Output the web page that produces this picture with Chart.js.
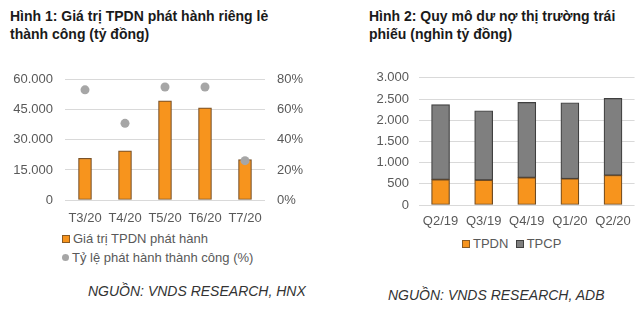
<!DOCTYPE html>
<html>
<head>
<meta charset="utf-8">
<script src="https://cdn.jsdelivr.net/npm/chart.js@4/dist/chart.umd.min.js"></script>
<style>
  html, body { margin:0; padding:0; background:#fff; }
  body { width:640px; height:310px; position:relative; overflow:hidden; font-family:"Liberation Sans", Arial, sans-serif; }
  .title { position:absolute; font-weight:bold; font-size:14px; line-height:18px; color:#1a1a1a; }
  .src { position:absolute; font-style:italic; font-size:14px; color:#333; white-space:nowrap; }
  .leg { position:absolute; font-size:13px; color:#595959; white-space:nowrap; }
  .sq { display:inline-block; width:6px; height:6px; vertical-align:middle; margin-right:3px; position:relative; top:-1px; }
  .dot { display:inline-block; width:7px; height:7px; border-radius:50%; vertical-align:middle; margin-right:3px; position:relative; top:-1px; }
  .cv { position:absolute; }
</style>
</head>
<body>
<div class="title" style="left:10px;top:7px;">Hình 1: Giá trị TPDN phát hành riêng lẻ<br>thành công (tỷ đồng)</div>
<div class="title" style="left:369px;top:7px;">Hình 2: Quy mô dư nợ thị trường trái<br>phiếu (nghìn tỷ đồng)</div>

<div class="cv" style="left:0;top:60px;width:320px;height:170px;"><canvas id="c1" width="320" height="170"></canvas></div>
<div class="cv" style="left:320px;top:60px;width:320px;height:170px;"><canvas id="c2" width="320" height="170"></canvas></div>

<div class="leg" style="left:62px;top:231px;"><span class="sq" style="background:#F7941D;border:1px solid #8a5a22;"></span>Giá trị TPDN phát hành</div>
<div class="leg" style="left:62px;top:250px;"><span class="dot" style="background:#A6A6A6;"></span>Tỷ lệ phát hành thành công (%)</div>

<div class="leg" style="left:462px;top:236px;"><span class="sq" style="background:#F7941D;border:1px solid #8a5a22;"></span>TPDN &nbsp;<span class="sq" style="background:#7F7F7F;border:1px solid #404040;"></span>TPCP</div>

<div class="src" style="left:88px;top:283px;">NGUỒN: VNDS RESEARCH, HNX</div>
<div class="src" style="left:388px;top:287px;">NGUỒN: VNDS RESEARCH, ADB</div>

<script>
// ---- Chart 1 data ----
const months = ['T3/20', 'T4/20', 'T5/20', 'T6/20', 'T7/20'];
const issueValue = [20800, 24500, 49500, 46000, 20200];      // tỷ đồng
const successRate = [73.3, 51, 75.2, 75.2, 26.2];            // %
const leftTicks1 = ['0', '15.000', '30.000', '45.000', '60.000'];
const rightTicks1 = ['0%', '20%', '40%', '60%', '80%'];

// ---- Chart 2 data ----
const quarters = ['Q2/19', 'Q3/19', 'Q4/19', 'Q1/20', 'Q2/20'];
const tpdn = [600, 585, 645, 620, 700];
const tpcp = [1770, 1638, 1776, 1792, 1815];
const leftTicks2 = ['0', '500', '1.000', '1.500', '2.000', '2.500', '3.000'];

const FONT = { family: '"Liberation Sans", Arial, sans-serif', size: 13 };
const TICKC = '#595959';
const GRIDC = '#D9D9D9';
Chart.defaults.font = FONT;
Chart.defaults.animation = false;

new Chart(document.getElementById('c1'), {
  type: 'bar',
  data: {
    labels: months,
    datasets: [
      {
        type: 'line', label: 'Tỷ lệ phát hành thành công (%)', data: successRate, yAxisID: 'y1',
        showLine: false, pointRadius: 4.5, pointBackgroundColor: '#A6A6A6', pointBorderColor: '#A6A6A6',
        pointBorderWidth: 0, order: 0
      },
      {
        type: 'bar', label: 'Giá trị TPDN phát hành', data: issueValue, yAxisID: 'y',
        backgroundColor: '#F7941D', borderColor: '#7a5228', borderWidth: 1.2, borderSkipped: false,
        barThickness: 13, order: 1
      }
    ]
  },
  options: {
    responsive: false,
    layout: { padding: { top: 9, bottom: 0, left: 0, right: 0 } },
    plugins: { legend: { display: false }, tooltip: { enabled: false } },
    scales: {
      x: {
        grid: { display: false, drawTicks: false },
        border: { display: false },
        ticks: { color: TICKC, padding: 11, maxRotation: 0, font: FONT },
        afterFit: s => { s.height = 30; }
      },
      y: {
        position: 'left', min: 0, max: 60000,
        grid: { color: GRIDC, drawTicks: false, lineWidth: 1 },
        border: { display: false },
        ticks: { stepSize: 15000, color: TICKC, padding: 12, callback: (v, i) => leftTicks1[i] },
        afterFit: s => { s.width = 65; }
      },
      y1: {
        position: 'right', min: 0, max: 80,
        grid: { display: false, drawTicks: false },
        border: { display: false },
        ticks: { stepSize: 20, color: TICKC, padding: 12, callback: (v, i) => rightTicks1[i] },
        afterFit: s => { s.width = 55; }
      }
    }
  }
});

new Chart(document.getElementById('c2'), {
  type: 'bar',
  data: {
    labels: quarters,
    datasets: [
      {
        label: 'TPDN', data: tpdn, backgroundColor: '#F7941D', borderColor: '#6e4a22',
        borderWidth: 1.2, borderSkipped: false, barThickness: 18
      },
      {
        label: 'TPCP', data: tpcp, backgroundColor: '#7F7F7F', borderColor: '#3f3f3f',
        borderWidth: 1.2, borderSkipped: false, barThickness: 18
      }
    ]
  },
  options: {
    responsive: false,
    layout: { padding: { top: 8, bottom: 0, left: 0, right: 3 } },
    plugins: { legend: { display: false }, tooltip: { enabled: false } },
    scales: {
      x: {
        stacked: true,
        grid: { display: false, drawTicks: false },
        border: { display: false },
        ticks: { color: TICKC, padding: 9, maxRotation: 0 },
        afterFit: s => { s.height = 25; }
      },
      y: {
        stacked: true, min: 0, max: 3000,
        grid: { color: GRIDC, drawTicks: false },
        border: { display: false },
        ticks: { stepSize: 500, color: TICKC, padding: 10, callback: (v, i) => leftTicks2[i] },
        afterFit: s => { s.width = 99; }
      }
    }
  }
});
</script>
</body>
</html>
